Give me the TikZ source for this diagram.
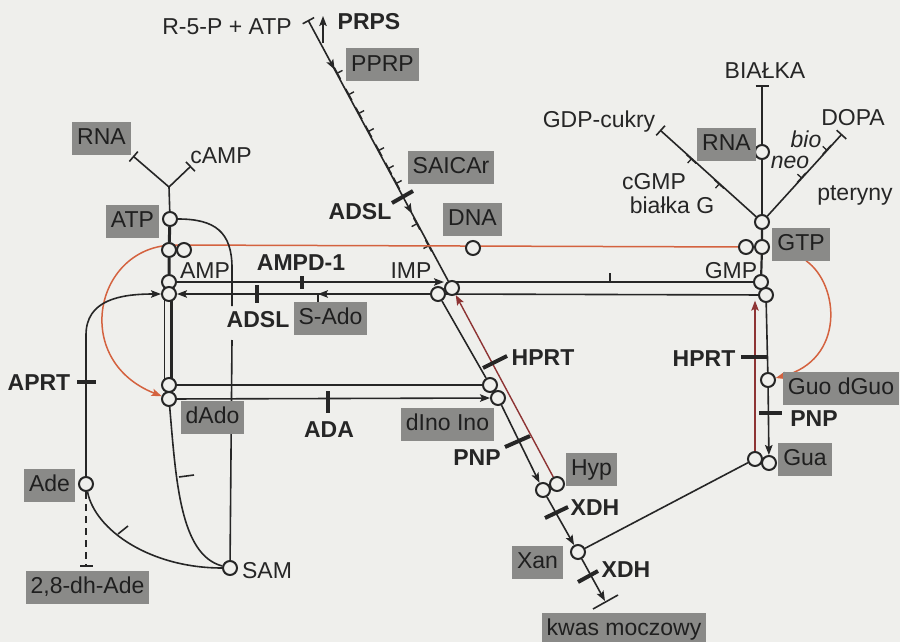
\documentclass[tikz,border=0pt]{standalone}
\usepackage{fontspec}
\setmainfont{Liberation Sans}
\usetikzlibrary{arrows.meta,calc,decorations.markings}
\definecolor{bgc}{HTML}{EFEFEC}
\definecolor{boxg}{HTML}{8A8A88}
\definecolor{ink}{HTML}{262626}
\definecolor{redA}{HTML}{D4623F}
\definecolor{redB}{HTML}{8E3434}
\pgfdeclarelayer{bglayer}
\pgfdeclarelayer{linelayer}
\pgfsetlayers{bglayer,linelayer,main}
\begin{document}
\begin{tikzpicture}[x=1pt,y=-1pt,
  >={Stealth[length=10pt,width=7.5pt,inset=2pt]},
  every node/.style={font=\fontsize{23}{27}\selectfont, text=ink},
  circ/.style={circle,draw=ink,line width=2pt,fill=bgc,minimum size=14pt,inner sep=0pt},
  gbox/.style={fill=boxg,text=black!88,inner xsep=5pt,inner ysep=6pt,text height=16.5pt,text depth=4.5pt},
  lbl/.style={inner sep=0pt,anchor=base},
  blbl/.style={lbl,font=\fontsize{23}{27}\selectfont\bfseries},
  ln/.style={color=ink,line width=1.6pt},
  med/.style={color=ink,line width=2.2pt},
  thk/.style={color=ink,line width=3pt},
  barl/.style={color=ink,line width=4pt},
  teeS/.style={{Bar[width=13pt]}-},
  teeE/.style={-{Bar[width=13pt]}},
]
\begin{pgfonlayer}{bglayer}
\fill[bgc] (0,0) rectangle (900,642);
\end{pgfonlayer}
\useasboundingbox (0,0) rectangle (900,642);

% ---------- circles ----------
\node[circ] (cATP)  at (170,219) {};
\node[circ] (cAMPa) at (169,250) {};
\node[circ] (cAMPb) at (184,250) {};
\node[circ] (cAMPc) at (169,282) {};
\node[circ] (cAMPd) at (169,294) {};
\node[circ] (cdAdoA) at (169,385) {};
\node[circ] (cdAdoB) at (169,399) {};
\node[circ] (cIMPa) at (438,294) {};
\node[circ] (cIMPb) at (452,288) {};
\node[circ] (cDNA)  at (473,248) {};
\node[circ] (cdInoA) at (490,385) {};
\node[circ] (cdInoB) at (498,398) {};
\node[circ] (cHypA) at (543,490) {};
\node[circ] (cHypB) at (557,484) {};
\node[circ] (cXan)  at (578,552) {};
\node[circ] (cAde)  at (86,484) {};
\node[circ] (cSAM)  at (230,568) {};
\node[circ] (cRNAr) at (762,152) {};
\node[circ] (cGTPt) at (762,222) {};
\node[circ] (cGTPa) at (746,247) {};
\node[circ] (cGTPb) at (762,247) {};
\node[circ] (cGMPa) at (761,282) {};
\node[circ] (cGMPb) at (766,295) {};
\node[circ] (cGuo)  at (768,380) {};
\node[circ] (cGuaA) at (755,459) {};
\node[circ] (cGuaB) at (769,463) {};

% ---------- grey boxes ----------
\node[gbox] (PPRP) at (382.5,65) {PPRP};
\node[gbox] (SAICAr) at (451,167) {SAICAr};
\node[gbox] (DNA) at (472.5,219) {DNA};
\node[gbox] (RNAl) at (101.5,138.5) {RNA};
\node[gbox] (ATP) at (132.5,221) {ATP};
\node[gbox] (SAdo) at (330.5,318.5) {S-Ado};
\node[gbox] (dAdo) at (212.5,417.5) {dAdo};
\node[gbox] (dIno) at (447.5,424) {dIno Ino};
\node[gbox] (Hyp) at (591.5,469) {Hyp};
\node[gbox] (Xan) at (537.5,562.5) {Xan};
\node[gbox] (kwas) at (624,629.5) {kwas moczowy};
\node[gbox] (Ade) at (49.5,485) {Ade};
\node[gbox] (dhAde) at (87.5,587.5) {2,8-dh-Ade};
\node[gbox] (RNAr) at (726.5,144) {RNA};
\node[gbox] (GTP) at (801,244) {GTP};
\node[gbox] (Guo) at (841,388) {Guo dGuo};
\node[gbox] (Gua) at (805,459) {Gua};

% ---------- plain labels ----------
\node[lbl] (tR5P) at (227,35) {R-5-P + ATP};
\node[blbl] (tPRPS) at (369,30) {PRPS};
\node[blbl] (tADSL1) at (360,219) {ADSL};
\node[lbl] (tcAMP) at (221,163) {cAMP};
\node[lbl] (tAMP) at (205,278) {AMP};
\node[blbl] (tAMPD) at (301,270) {AMPD-1};
\node[lbl] (tIMP) at (411,278) {IMP};
\node[blbl] (tADSL2) at (258,327) {ADSL};
\node[blbl] (tAPRT) at (39,390) {APRT};
\node[blbl] (tADA) at (329,437) {ADA};
\node[blbl] (tHPRT1) at (543,365) {HPRT};
\node[blbl] (tPNP1) at (477,465) {PNP};
\node[blbl] (tXDH1) at (595,515) {XDH};
\node[blbl] (tXDH2) at (626,577) {XDH};
\node[lbl] (tSAM) at (267,578) {SAM};
\node[lbl] (tBIAL) at (765,78) {BIAŁKA};
\node[lbl] (tGDP) at (599,128) {GDP-cukry};
\node[lbl] (tDOPA) at (853,125) {DOPA};
\node[lbl,font=\fontsize{23}{27}\selectfont\itshape] (tbio) at (806,147) {bio};
\node[lbl,font=\fontsize{23}{27}\selectfont\itshape] (tneo) at (790,168) {neo};
\node[lbl] (tcGMP) at (654,189) {cGMP};
\node[lbl] (tbialG) at (672,213) {białka G};
\node[lbl] (tpter) at (855,200) {pteryny};
\node[lbl] (tGMP) at (731,278) {GMP};
\node[blbl] (tHPRT2) at (704,366) {HPRT};
\node[blbl] (tPNP2) at (814,426) {PNP};

% ---------- connectors ----------
\begin{pgfonlayer}{linelayer}
\coordinate (T0) at (308,20);
\coordinate (prA) at (323,43);
\coordinate (prB) at (323,16);
\coordinate (J1) at (169,187);
\coordinate (tRl) at (133,156);
\coordinate (tCl) at (191,166);
\coordinate (tBi) at (762,85);
\coordinate (tGd) at (660,130);
\coordinate (tDo) at (842,134);
\coordinate (K) at (605,601);
\coordinate (aS1) at (232,306);
\coordinate (aS2) at (232,340);
\coordinate (aP1) at (86,335);
\coordinate (t28) at (86,567);

% main diagonal PRPP -> IMP
\draw[ln,teeS,postaction={decorate,decoration={markings,
  mark=at position 0.19 with {\arrow{>}},
  mark=at position 0.205 with {\draw[ink,line width=1.4pt] (0,0) -- (0,6.5pt);},
  mark=at position 0.287 with {\draw[ink,line width=1.4pt] (0,0) -- (0,6.5pt);},
  mark=at position 0.359 with {\draw[ink,line width=1.4pt] (0,0) -- (0,6.5pt);},
  mark=at position 0.428 with {\draw[ink,line width=1.4pt] (0,0) -- (0,6.5pt);},
  mark=at position 0.501 with {\draw[ink,line width=1.4pt] (0,0) -- (0,6.5pt);},
  mark=at position 0.570 with {\draw[ink,line width=1.4pt] (0,0) -- (0,6.5pt);},
  mark=at position 0.627 with {\draw[ink,line width=1.4pt] (0,0) -- (0,6.5pt);},
  mark=at position 0.742 with {\arrow{>}},
  mark=at position 0.780 with {\draw[ink,line width=1.4pt] (0,0) -- (0,-6.5pt);},
  mark=at position 0.864 with {\draw[ink,line width=1.4pt] (0,0) -- (0,-6.5pt);}
  }}] (T0) -- (cIMPb);
\draw[barl] (392,203) -- (413,191);
\draw[ln,->] (prA) -- (prB);

% ATP branches
\draw[ln] (cATP) -- (J1);
\draw[ln,teeE] (J1) -- (tRl);
\draw[ln,teeE] (J1) -- (tCl);

% left column
\draw[thk] (cATP) -- (cAMPa) -- (cAMPc);
\draw[thk] ([xshift=2pt]cAMPd.center) -- ([xshift=2pt]cdAdoA.center);
\draw[ln,line width=1.2pt] ([xshift=-4.5pt]cAMPd.center) -- ([xshift=-4.5pt]cdAdoA.center);

% AMP <-> IMP
\draw[ln,->] (cAMPc) -- (cIMPb.west |- cAMPc);
\draw[barl] (302,276) -- (302,289);
\draw[ln,->,postaction={decorate,decoration={markings,
  mark=at position 0.443 with {\arrow{>}}}}] (cIMPa) -- (cAMPd);
\draw[barl] (257,285) -- (257,303);
\draw[ln] (318,294) -- (SAdo.north -| 318,0);

% IMP <-> GMP
\draw[ln] (cIMPb |- cGMPa) -- (cGMPa);
\draw[ln,line width=1.2pt] (610,273) -- (610,282);
\draw[ln] (cGMPb) -- (cIMPa);

% dAdo -> dIno
\draw[ln] (cdAdoA) -- (cdInoA);
\draw[ln,->] (cdAdoB) -- (cdInoB);
\draw[barl] (328,391) -- (328,413);

% IMP / Ino / Hyp
\draw[ln] (cIMPa) -- (cdInoA);
\draw[ln,->] (cdInoB) -- (cHypA);
\draw[barl] (505,447) -- (530,436);
\draw[color=redB,line width=1.4pt,->] (cHypB) -- (cIMPb);
\draw[barl] (483,368) -- (507,356);
\draw[ln,->] (cHypA) -- (cXan);
\draw[barl] (545,518) -- (568,507);
\draw[ln,->] (cXan) -- (K);
\draw[ln] (593,609) -- (618,595);
\draw[barl] (578,582) -- (598,571);
\draw[ln] (cGuaA) -- (cXan);

% right column
\draw[ln,teeS] (tBi) -- (cRNAr);
\draw[ln] (cRNAr) -- (cGTPt);
\draw[med] (cGTPt) -- (cGTPb) -- (cGMPa);
\draw[ln,teeS,postaction={decorate,decoration={markings,
  mark=at position 0.33 with {\draw[ink,line width=1.3pt] (0,0) -- (0,-6pt);},
  mark=at position 0.62 with {\draw[ink,line width=1.3pt] (0,0) -- (0,-6pt);}
  }}] (tGd) -- (cGTPt);
\draw[ln,teeS,postaction={decorate,decoration={markings,
  mark=at position 0.20 with {\draw[ink,line width=1.3pt] (0,0) -- (0,-6pt);},
  mark=at position 0.54 with {\draw[ink,line width=1.3pt] (0,0) -- (0,-6pt);}
  }}] (tDo) -- (cGTPt);
\draw[ln] (cGMPb) -- (cGuo);
\draw[ln,->] (cGuo) -- (cGuaB);
\draw[barl] (759,413) -- (782,413);
\draw[color=redB,line width=1.4pt,->] (cGuaA) -- (cGuaA |- cGMPb.south west);
\draw[barl] (741,357) -- (767,357);

% red arcs
\draw[color=redA,line width=1.5pt,->] (cGTPa) -- (175,245) .. controls (95,245) and (70,360) .. (cdAdoB);
\draw[color=redA,line width=1.5pt,->] ($(GTP.south)+(5,0)$) .. controls (840,285) and (845,360) .. (cGuo);

% SAM connections
\draw[ln] (cATP) .. controls (215,219) and (232,232) .. (232,268) -- (aS1);
\draw[ln] (aS2) -- (cSAM);
\draw[ln] (cdAdoB) .. controls (176,480) and (180,555) .. (cSAM);
\draw[ln] (179,477) -- (194,475);
\draw[ln] (cAde) .. controls (95,530) and (150,568) .. (cSAM);
\draw[ln] (118,534) -- (128,526);

% Ade
\draw[ln,->] (cAde) -- (aP1) .. controls (86,300) and (120,294) .. (cAMPd);
\draw[barl] (77,382) -- (96,382);
\draw[ln,teeE,dash pattern=on 7pt off 5pt] (cAde) -- (t28);
\end{pgfonlayer}
\end{tikzpicture}
\end{document}
